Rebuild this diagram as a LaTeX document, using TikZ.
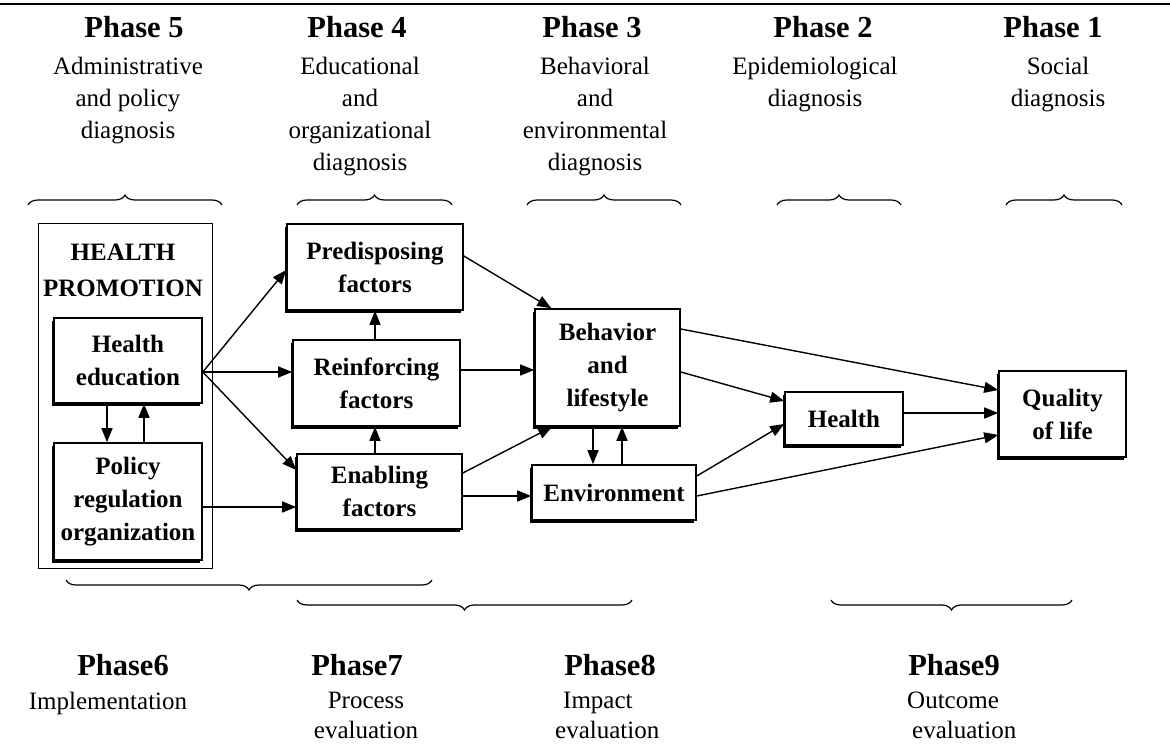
\documentclass[tikz,border=0pt]{standalone}
\usepackage{fontspec}
\setmainfont{Liberation Serif}
\usetikzlibrary{arrows.meta,shadows,decorations.pathreplacing,calc}
\begin{document}
\begin{tikzpicture}[x=1pt,y=-1pt,
  box/.style={draw,line width=1.6pt,fill=white,align=center,
    font=\fontsize{25}{33}\selectfont\bfseries,inner sep=0pt,
    drop shadow={shadow xshift=-2.5pt,shadow yshift=-2.5pt,fill=black,opacity=1}},
  arr/.style={line width=1.4pt,-{Triangle[length=14pt,width=11pt]}},
  ttl/.style={font=\fontsize{30.5}{36}\selectfont\bfseries,anchor=north,inner sep=0pt},
  sub/.style={font=\fontsize{25}{32}\selectfont,align=center,anchor=north,inner sep=0pt},
  btl/.style={font=\fontsize{30.5}{36}\selectfont\bfseries,anchor=north,inner sep=0pt},
  bsub/.style={font=\fontsize{25}{30}\selectfont,anchor=north,inner sep=0pt},
  brc/.style={decorate,decoration={brace,amplitude=10pt},line width=1.2pt},
  brcd/.style={decorate,decoration={brace,mirror,amplitude=10pt},line width=1.2pt}]
\useasboundingbox (0,0) rectangle (1170,749);
\fill[white] (0,0) rectangle (1170,749);
\draw[line width=1.4pt] (0,4) -- (1170,4);

% top headings
\node[ttl] (p5) at (134,16) {Phase 5};
\node[sub] (p5s) at (128,57) {Administrative\\and policy\\diagnosis};
\node[ttl] (p4) at (357,16) {Phase 4};
\node[sub] (p4s) at (360,57) {Educational\\and\\organizational\\diagnosis};
\node[ttl] (p3) at (592,16) {Phase 3};
\node[sub] (p3s) at (595,57) {Behavioral\\and\\environmental\\diagnosis};
\node[ttl] (p2) at (823,16) {Phase 2};
\node[sub] (p2s) at (815,57) {Epidemiological\\diagnosis};
\node[ttl] (p1) at (1053,16) {Phase 1};
\node[sub] (p1s) at (1058,57) {Social\\diagnosis};

% top braces
\draw[brc] (28,205) -- (222,205);
\draw[brc] (297,205) -- (452,205);
\draw[brc] (527,205) -- (681,205);
\draw[brc] (777,205) -- (901,205);
\draw[brc] (1006,205) -- (1122,205);

% boxes
\node[draw,line width=1pt,minimum width=174pt,minimum height=345pt,inner sep=0pt] (hp) at (125,395.5) {};
\node[font=\fontsize{25}{36}\selectfont\bfseries,align=center,inner sep=0pt] (hpt) at (123,270) {HEALTH\\PROMOTION};
\node[box,minimum width=148pt,minimum height=85pt] (he) at (128,360.5) {Health\\education};
\node[box,minimum width=148pt,minimum height=117pt] (pol) at (128,501.5) {Policy\\regulation\\organization};
\node[box,minimum width=176pt,minimum height=86pt] (pre) at (375,267) {Predisposing\\factors};
\node[box,minimum width=167pt,minimum height=86pt] (rei) at (376.5,383) {Reinforcing\\factors};
\node[box,minimum width=165pt,minimum height=75pt] (ena) at (379.5,491.5) {Enabling\\factors};
\node[box,minimum width=145pt,minimum height=117pt] (beh) at (607.5,367.5) {Behavior\\and\\lifestyle};
\node[box,minimum width=164pt,minimum height=55pt] (env) at (614,492.5) {Environment};
\node[box,minimum width=118pt,minimum height=53pt] (hea) at (844,418.5) {Health};
\node[box,minimum width=127pt,minimum height=86pt] (qol) at (1062.5,414) {Quality\\of life};

% arrows
\draw[arr] ([yshift=-11.5pt]he.east) -- ([yshift=-3pt]pre.west);
\draw[arr] ([yshift=-11.5pt]he.east) -- ([yshift=11pt]rei.west);
\draw[arr] ([yshift=-11.5pt]he.east) -- ([yshift=21.5pt]ena.west);
\draw[arr] ([yshift=-5.5pt]pol.east) -- ([yshift=-15.5pt]ena.west);
\draw[arr] ([xshift=-21pt]he.south) -- ([xshift=-21pt]pol.north);
\draw[arr] ([xshift=16pt]pol.north) -- ([xshift=16pt]he.south);
\draw[arr] ([xshift=-1.5pt]rei.north) -- (pre.south);
\draw[arr] ([xshift=-4.5pt]ena.north) -- ([xshift=-1.5pt]rei.south);
\draw[arr] ([yshift=11pt]pre.east) -- ([xshift=17pt]beh.north west);
\draw[arr] ([yshift=13pt]rei.east) -- ([yshift=-2.5pt]beh.west);
\draw[arr] ([yshift=18.5pt]ena.east) -- ([xshift=18pt]beh.south west);
\draw[arr] ([yshift=-4.5pt]ena.east) -- ([yshift=-3.5pt]env.west);
\draw[arr] ([xshift=-14.5pt]beh.south) -- ([xshift=-21pt]env.north);
\draw[arr] ([xshift=8pt]env.north) -- ([xshift=14.5pt]beh.south);
\draw[arr] ([yshift=38.5pt]beh.east) -- ([yshift=24pt]qol.west);
\draw[arr] ([yshift=-4.5pt]beh.east) -- ([yshift=17.5pt]hea.west);
\draw[arr] ([yshift=16.5pt]env.east) -- ([yshift=-5.5pt]hea.west);
\draw[arr] ([yshift=-3.5pt]env.east) -- ([yshift=-21pt]qol.west);
\draw[arr] ([yshift=5.5pt]hea.east) -- ([yshift=1pt]qol.west);

% bottom braces
\draw[brcd] (66,580) -- (432,580);
\draw[brcd] (297,600) -- (632,600);
\draw[brcd] (831,600) -- (1072,600);

% bottom headings
\node[btl] (p6) at (123,654) {Phase6};
\node[bsub] (p6s) at (108,692) {Implementation};
\node[btl] (p7) at (357,654) {Phase7};
\node[bsub,align=center] (p7s) at (366,692) {Process\\evaluation};
\node[btl] (p8) at (610,654) {Phase8};
\node[bsub,align=left,anchor=north west] (p8s) at (555,692) {\hspace*{8pt}Impact\\evaluation};
\node[btl] (p9) at (954,654) {Phase9};
\node[bsub,align=left,anchor=north west] (p9s) at (907,692) {Outcome\\\hspace*{5pt}evaluation};
\end{tikzpicture}
\end{document}
